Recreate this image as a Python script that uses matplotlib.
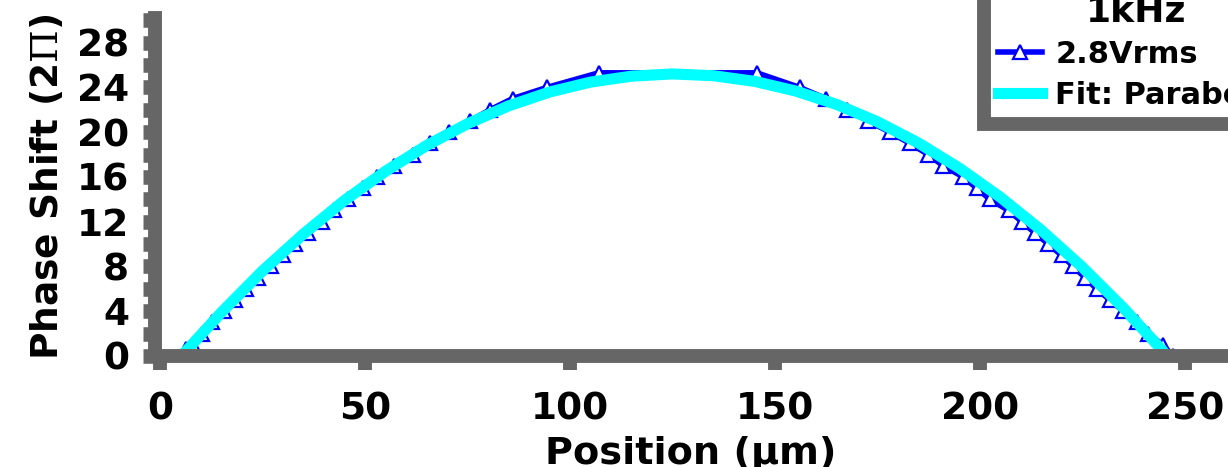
# phase shift across the channel, 1kHz drive
import matplotlib.pyplot as plt
from matplotlib.ticker import MultipleLocator

plt.rcParams['mathtext.fontset'] = 'dejavuserif'

# measured points (2.8Vrms)
pos_um = [6.3, 8.0, 10.2, 12.8, 15.5, 18.3, 21.1, 24.0, 27.1, 30.0, 32.9, 36.2, 39.4,
          42.5, 45.9, 49.4, 53.0, 57.2, 61.6, 65.9, 70.4, 75.6, 80.5, 86.0, 94.4, 107.0,
          145.6, 156.0, 162.5, 167.5, 172.8, 178.0, 182.9, 187.4, 191.0, 195.9, 199.2,
          202.4, 207.0, 210.2, 213.4, 216.7, 219.9, 222.8, 225.6, 228.5, 231.7, 235.0,
          238.2, 241.0, 244.6, 247.0]
phase = [0.6, 1, 2, 3, 4, 5, 6, 7, 8, 9, 10, 11, 12, 13, 14, 15, 16, 17, 18, 19, 20,
         21, 22, 23, 24, 25.3,
         25.3, 24, 23, 22, 21, 20, 19, 18, 17, 16, 15, 14, 13, 12, 11, 10, 9, 8, 7, 6,
         5, 4, 3, 2, 1, 0]

# parabola fit
fit_pos = [6.5, 15, 25, 35, 45, 55, 65, 75, 85, 95, 105, 115, 125, 135, 145, 155, 165,
           175, 185, 195, 205, 215, 225, 235, 245]
fit_phase = [0.5, 3.9, 7.6, 10.9, 13.9, 16.5, 18.8, 20.75, 22.34, 23.58, 24.47, 25.0,
             25.2, 25.04, 24.54, 23.68, 22.48, 20.93, 19.03, 16.78, 14.18, 11.23, 7.93,
             4.29, 0.3]

grey = '#666666'

fig = plt.figure(figsize=(12.28, 4.67), dpi=100)
ax = fig.add_axes([0.1262, 0.2377, 0.8721, 0.7238])

ax.plot(pos_um, phase, color='blue', lw=4, marker='^', ms=9.5, mew=1.6,
        mfc='white', mec='blue', label='2.8Vrms')
ax.plot(fit_pos, fit_phase, color='cyan', lw=8, label='Fit: Parabola')

ax.set_xlim(-1.22, 260)
ax.set_ylim(0, 30.2)
ax.xaxis.set_major_locator(MultipleLocator(50))
ax.yaxis.set_major_locator(MultipleLocator(4))
ax.yaxis.set_minor_locator(MultipleLocator(2))

for side in ['top', 'right']:
    ax.spines[side].set_visible(False)
for side in ['left', 'bottom']:
    ax.spines[side].set_linewidth(10)
    ax.spines[side].set_color(grey)

ax.tick_params(axis='x', which='major', length=10, width=10, color=grey, pad=15.5,
               labelsize=27)
ax.tick_params(axis='y', which='both', length=8.6, width=10.5, color=grey, pad=10,
               labelsize=27)
for lab in ax.get_xticklabels() + ax.get_yticklabels():
    lab.set_fontweight('bold')

ax.set_xlabel('Position (µm)', fontsize=27.5, fontweight='bold', labelpad=6.5)
ax.set_ylabel(r'Phase Shift (2$\Pi$)', fontsize=27, fontweight='bold', labelpad=8)

leg = ax.legend(loc='lower left', bbox_to_anchor=(0.8013, 0.7355),
                bbox_transform=fig.transFigure, borderaxespad=0, fancybox=False,
                framealpha=1, edgecolor=grey, numpoints=1, handlelength=1.45,
                handletextpad=0.43, labelspacing=0.38, borderpad=0.45,
                title='1kHz', prop={'size': 22, 'weight': 'bold'},
                title_fontproperties={'size': 26, 'weight': 'bold'})
leg.get_frame().set_linewidth(10)

plt.savefig('out.png', dpi=100)
